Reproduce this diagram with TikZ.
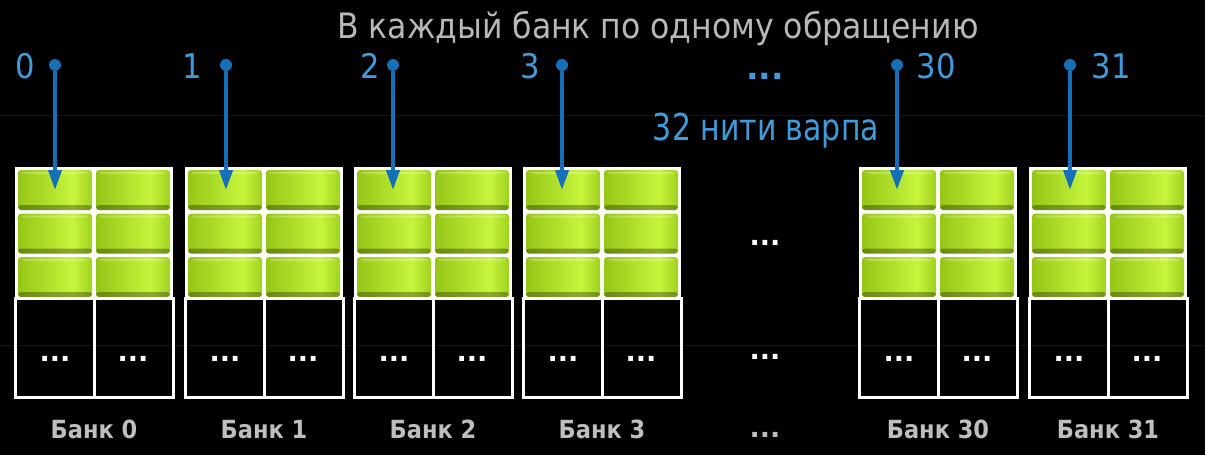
\documentclass[tikz,border=0pt]{standalone}
\usepackage{fontspec}
\setmainfont{DejaVu Sans Condensed}
\newfontfamily\narrowfont[FakeStretch=0.9]{DejaVu Sans Condensed}
\newfontfamily\dotfont{DejaVu Sans}
\usetikzlibrary{arrows.meta,positioning}
\definecolor{gdark}{HTML}{4A6A00}
\definecolor{gmid}{HTML}{84B60A}
\definecolor{glight}{HTML}{C6F53C}
\definecolor{tblue}{HTML}{3E9CDC}
\definecolor{ablue}{HTML}{1670B8}
\definecolor{tgray}{HTML}{B8B8B8}
\definecolor{lgray}{HTML}{BEBEBE}
\definecolor{bgline}{HTML}{151515}
\pgfdeclarehorizontalshading{greencell}{100bp}{color(0bp)=(gdark); color(12bp)=(gmid); color(62bp)=(glight); color(85bp)=(gmid); color(100bp)=(gdark)}

\begin{document}
\begin{tikzpicture}[x=1pt, y=-1pt,
	cellbox/.style = {rounded corners=3pt, shading=greencell, minimum width=74pt, minimum height=40pt, inner sep=0pt,
		path picture={\fill[black, opacity=.3] ([yshift=5pt]path picture bounding box.south west) rectangle (path picture bounding box.south east);
			\fill[white, opacity=.25] ([xshift=4pt,yshift=-2pt]path picture bounding box.north west) rectangle ([xshift=-4pt,yshift=-4pt]path picture bounding box.north east);}},
	frame/.style = {draw=white, line width=3pt},
	dots/.style = {text=white, font=\dotfont\bfseries\fontsize{27}{27}\selectfont},
	tnum/.style = {text=tblue, anchor=base, font=\fontsize{34}{34}\selectfont},
	tdot/.style = {circle, fill=ablue, minimum size=12pt, inner sep=0pt},
	thread/.style = {draw=ablue, line width=4pt, -{Triangle[length=20pt,width=13pt]}},
	banklabel/.style = {text=lgray, anchor=base, font=\bfseries\fontsize{25}{25}\selectfont}] 
	\fill[black] (0,0) rectangle (1205,455);
	\useasboundingbox (0,0) rectangle (1205,455);
	% faint background pattern
	\begin{scope}
		\clip (0,0) rectangle (1205,455);
		\foreach \k in {-6,...,10}
			\draw[bgline] (\k*133,0) -- ++(60:-530) (\k*133,0) -- ++(120:-530);
		\draw[bgline] (0,115) -- (1205,115) (0,345) -- (1205,345);
	\end{scope}
	\node[text=tgray, anchor=base, font=\fontsize{35}{35}\selectfont] (title) at (658,38) {В каждый банк по одному обращению};
	% banks
	\foreach \n/\X in {0/15,1/185,2/354,3/523,30/859,31/1029}{
		\fill[white] (\X,167) rectangle ++(158,132);
		\foreach \r in {0,1,2}
			\foreach \c in {0,1}
				\node[cellbox] (c\n-\r\c) at (\X+40+78*\c, 190+43.5*\r) {};
		\draw[frame] (\X,298) rectangle ++(158,99) (\X+79,298) -- ++(0,99);
		\node[dots] (e\n-0) at (\X+40,359) {...};
		\node[dots] (e\n-1) at (\X+118,359) {...};
		\node[banklabel] (b\n) at (\X+79,438) {Банк \n};
	}
	% threads
	\foreach \n/\x/\lx in {0/55/25, 1/226/192, 2/393/370, 3/562/530, 30/897/936, 31/1070/1111}{
		\node[tdot] (d\n) at (\x,65) {};
		\node[tnum] (n\n) at (\lx,78) {\n};
		\draw[thread] (d\n) -- (d\n |- c\n-00.center);
	}
	\node[dots, text=tblue, font=\dotfont\bfseries\fontsize{33}{33}\selectfont] (tdots) at (765,76) {...};
	\node[tnum, font=\narrowfont\fontsize{37}{37}\selectfont] (warp) at (766,140) {32 нити варпа};
	\node[dots] (mid1) at (765,243) {...};
	\node[dots] (mid2) at (765,357) {...};
	\node[dots, text=lgray] (mid3) at (765,435) {...};
\end{tikzpicture}
\end{document}
